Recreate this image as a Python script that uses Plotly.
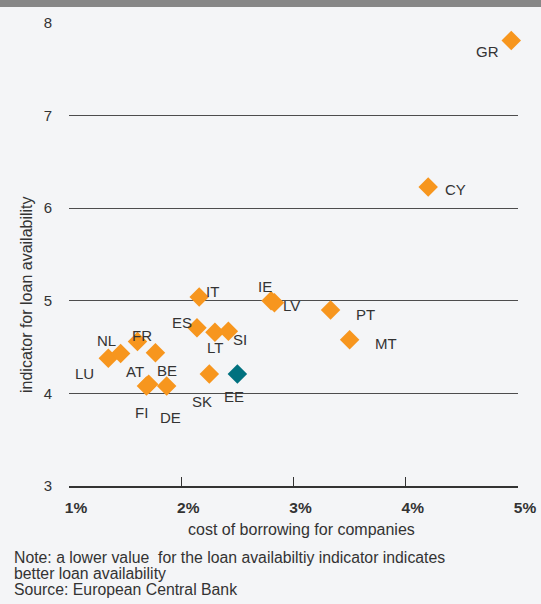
import plotly.graph_objects as go

countries = ["GR", "CY", "IE", "LV", "PT", "MT", "IT", "ES", "LT", "SI", "SK", "EE",
             "LU", "NL", "FR", "AT", "BE", "FI", "DE"]
cost_of_borrowing = [4.94, 4.20, 2.80, 2.83, 3.33, 3.50, 2.16, 2.14, 2.30, 2.42, 2.25, 2.50,
                     1.35, 1.46, 1.61, 1.71, 1.77, 1.69, 1.87]
loan_availability = [7.81, 6.23, 5.00, 4.98, 4.90, 4.58, 5.04, 4.71, 4.66, 4.67, 4.21, 4.21,
                     4.38, 4.43, 4.56, 4.10, 4.44, 4.08, 4.08]
highlight = "EE"
x_tick_vals = [1, 2, 3, 4, 5]
x_tick_text = ["1%", "2%", "3%", "4%", "5%"]
y_tick_vals = [3, 4, 5, 6, 7, 8]
note_lines = [
    "Note: a lower value  for the loan availabiltiy indicator indicates",
    "better loan availability",
    "Source: European Central Bank",
]

# label offsets in pixels (dx right, dy down)
label_offsets = {
    "GR": (-24, 11), "CY": (27, 3), "IE": (-6, -14), "LV": (17, 3), "PT": (35, 4),
    "MT": (36, 4), "IT": (13, -6), "ES": (-15, -5), "LT": (0, 15), "SI": (12, 8),
    "SK": (-7, 28), "EE": (-3, 23), "LU": (-24, 15), "NL": (-14, -13), "FR": (5, -6),
    "AT": (-14, -13), "BE": (12, 18), "FI": (-5, 27), "DE": (4, 32),
}

ORANGE = "#F7961E"
TEAL = "#00717F"
TEXT = "#333333"
BG = "#F4F5F7"
FONT = "Liberation Sans, Arial, Helvetica, sans-serif"

W, H = 541, 604
L, R, T, B = 69, 23, 23, 118
PW, PH = W - L - R, H - T - B

def px(xp):
    return (xp - L) / PW

def py(yp):
    return (H - B - yp) / PH

colors = [TEAL if c == highlight else ORANGE for c in countries]

fig = go.Figure()
fig.add_trace(go.Scatter(
    x=cost_of_borrowing, y=loan_availability, mode="markers",
    marker=dict(symbol="diamond", size=15, color=colors, line=dict(width=0)),
    hoverinfo="text", text=countries, showlegend=False, cliponaxis=False,
))

annotations = []
for c, xv, yv in zip(countries, cost_of_borrowing, loan_availability):
    dx, dy = label_offsets[c]
    annotations.append(dict(
        x=xv, y=yv, xref="x", yref="y", text=c, showarrow=False,
        xshift=dx, yshift=-dy, font=dict(family=FONT, size=15, color=TEXT),
    ))

annotations.append(dict(
    x=px(301), y=py(529), xref="paper", yref="paper", text="cost of borrowing for companies",
    showarrow=False, xanchor="center", yanchor="middle",
    font=dict(family=FONT, size=16, color=TEXT),
))
annotations.append(dict(
    x=px(26), y=py(295), xref="paper", yref="paper", text="indicator for loan availability",
    showarrow=False, xanchor="center", yanchor="middle", textangle=-90,
    font=dict(family=FONT, size=16, color=TEXT),
))
for i, line in enumerate(note_lines):
    annotations.append(dict(
        x=px(12), y=py(557 + 16 * i), xref="paper", yref="paper", text=line,
        showarrow=False, xanchor="left", yanchor="middle", align="left",
        font=dict(family=FONT, size=15.8, color=TEXT),
    ))

shapes = [dict(
    type="rect", xref="paper", yref="paper",
    x0=px(-5), x1=px(W + 5), y0=py(7), y1=py(-5),
    fillcolor="#878787", line=dict(width=0), layer="above",
)]

fig.update_layout(
    width=W, height=H,
    margin=dict(l=L, r=R, t=T, b=B, autoexpand=False),
    paper_bgcolor=BG, plot_bgcolor=BG,
    font=dict(family=FONT, color=TEXT),
    annotations=annotations, shapes=shapes,
    xaxis=dict(
        range=[1, 5], tickvals=x_tick_vals, ticktext=x_tick_text, automargin=False,
        showgrid=False, zeroline=False, showline=True, linecolor="#333333", linewidth=1.5,
        ticks="inside", ticklen=9, tickwidth=1, tickcolor="#333333",
        tickfont=dict(family=FONT, size=15.5, color=TEXT, weight="bold"),
        ticklabelshift=7, ticklabelstandoff=7,
    ),
    yaxis=dict(
        range=[3, 8], tickvals=y_tick_vals, automargin=False,
        showgrid=True, gridcolor="#4D4D4D", gridwidth=1, zeroline=False, showline=False,
        ticks="", tickfont=dict(family=FONT, size=15, color=TEXT),
        ticklabelstandoff=16,
    ),
)

fig.write_html("out.html")
